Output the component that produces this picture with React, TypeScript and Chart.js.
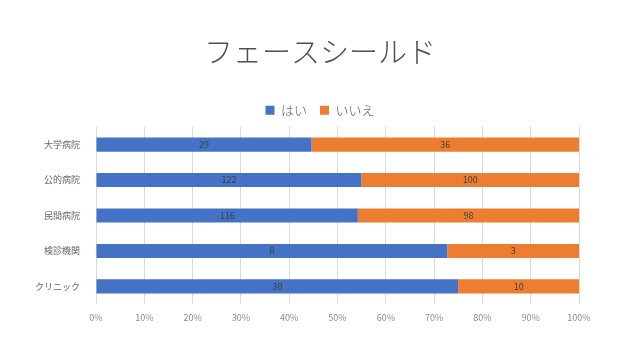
import React, { useEffect, useRef } from "react";
import { Chart, registerables } from "chart.js";

Chart.register(...registerables);

const categories = ["大学病院", "公的病院", "民間病院", "検診機関", "クリニック"];
const yesValues = [29, 122, 116, 8, 30];
const noValues = [36, 100, 98, 3, 10];
const seriesNames = ["はい", "いいえ"];
const titleText = "フェースシールド";

const FONT = "'Noto Sans CJK JP', 'Noto Sans', sans-serif";

const labelPlugin = {
  id: "segLabels",
  afterDatasetsDraw(chart: any) {
    const ctx = chart.ctx;
    ctx.save();
    ctx.font = `9px ${FONT}`;
    ctx.fillStyle = "#404040";
    ctx.textAlign = "center";
    ctx.textBaseline = "middle";
    chart.data.datasets.forEach((ds: any, di: number) => {
      const meta = chart.getDatasetMeta(di);
      meta.data.forEach((el: any, i: number) => {
        const raw = ds.rawValues[i];
        const cx = (el.x + el.base) / 2;
        ctx.fillText(String(raw), cx, el.y);
      });
    });
    ctx.restore();
  },
};

export default function App() {
  const ref = useRef<HTMLCanvasElement>(null);
  useEffect(() => {
    const totals = yesValues.map((v, i) => v + noValues[i]);
    const yesPct = yesValues.map((v, i) => (v / totals[i]) * 100);
    const noPct = noValues.map((v, i) => (v / totals[i]) * 100);
    const chart = new Chart(ref.current!, {
      type: "bar",
      data: {
        labels: categories,
        datasets: [
          {
            label: seriesNames[0],
            data: yesPct,
            rawValues: yesValues,
            backgroundColor: "#4472C4",
            categoryPercentage: 0.4,
            barPercentage: 1,
          } as any,
          {
            label: seriesNames[1],
            data: noPct,
            rawValues: noValues,
            backgroundColor: "#ED7D31",
            categoryPercentage: 0.4,
            barPercentage: 1,
          } as any,
        ],
      },
      options: {
        indexAxis: "y",
        animation: false,
        responsive: false,
        layout: { padding: { left: 0, right: 0, top: 0, bottom: 29 } },
        plugins: {
          title: {
            display: true,
            text: titleText,
            color: "#505050",
            font: { family: FONT, size: 29, weight: "200" as any },
            padding: { top: 35, bottom: 21 },
          },
          legend: {
            display: true,
            position: "top",
            labels: {
              color: "#595959",
              font: { family: FONT, size: 13, weight: "300" as any },
              boxWidth: 9,
              boxHeight: 9,
              padding: 13,
            },
          },
          tooltip: { enabled: false },
        },
        scales: {
          x: {
            stacked: true,
            min: 0,
            max: 100,
            ticks: {
              stepSize: 10,
              color: "#8c8c8c",
              font: { family: FONT, size: 9 },
              callback: (v: any) => v + "%",
              padding: 8,
            },
            grid: { color: "#d9d9d9", drawTicks: false },
            border: { display: false },
          },
          y: {
            stacked: true,
            ticks: {
              color: "#666666",
              font: { family: FONT, size: 9 },
              padding: 8,
            },
            grid: { display: false },
            border: { display: false },
            afterFit: (s: any) => {
              s.width = 96;
            },
          },
          yRight: {
            position: "right",
            display: true,
            ticks: { display: false },
            grid: { display: false },
            border: { display: false },
            afterFit: (s: any) => {
              s.width = 61;
            },
          },
        },
      },
      plugins: [labelPlugin],
    });
    return () => chart.destroy();
  }, []);
  return (
    <div style={{ position: "absolute", left: 0, top: 0, width: 640, height: 360, background: "#fff" }}>
      <canvas ref={ref} width={640} height={360} />
    </div>
  );
}
